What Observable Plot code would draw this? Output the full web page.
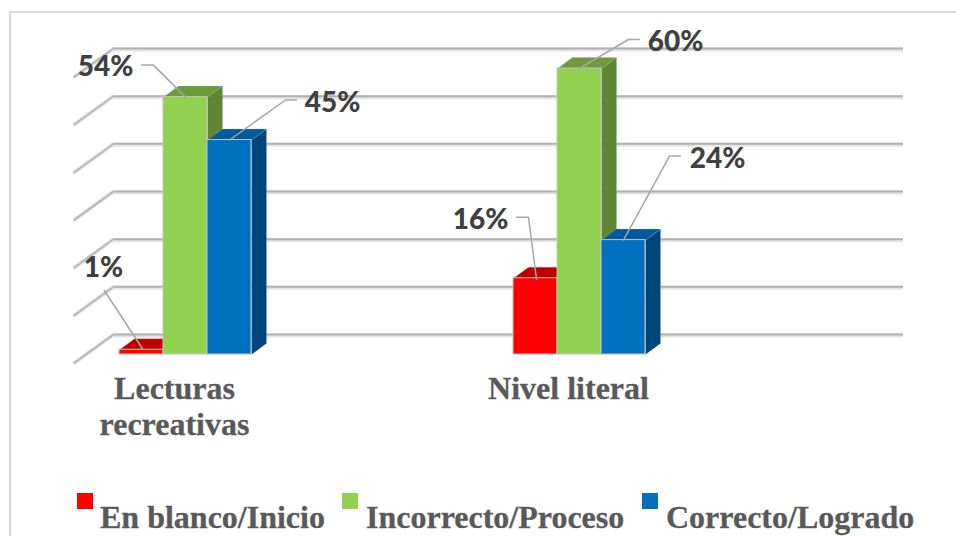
<!DOCTYPE html>
<html lang="es">
<head>
<meta charset="utf-8">
<script src="https://cdn.jsdelivr.net/npm/d3@7"></script>
<script src="https://cdn.jsdelivr.net/npm/@observablehq/plot@0.6"></script>
<style>
  html, body { margin: 0; padding: 0; background: #fff; overflow: hidden; }
  #page { position: relative; width: 956px; height: 536px; overflow: hidden; }
  #frame { position: absolute; left: 9px; top: 11px; width: 947px; height: 525px; box-sizing: border-box;
           border-top: 2px solid #d9d9d9; border-left: 2px solid #d9d9d9; }
  #chart { position: absolute; left: 0; top: 0; }
  #chart svg { display: block; background: transparent; }
  .key { position: absolute; top: 493px; width: 16px; height: 16px; }
  .lab { position: absolute; top: 499px; font: bold 32px/36px "Liberation Serif", serif; color: #595959; white-space: nowrap; -webkit-text-stroke: 0.3px #595959; }
</style>
</head>
<body>
<div id="page">
  <div id="frame"></div>
  <div id="chart"></div>
</div>
<script>
// ---- data ----
const categories = ["Lecturas\nrecreativas", "Nivel literal"];
const seriesNames = ["En blanco/Inicio", "Incorrecto/Proceso", "Correcto/Logrado"];
const enBlanco = [1, 16];
const incorrecto = [54, 60];
const correcto = [45, 24];
const gridValues = [0, 10, 20, 30, 40, 50, 60];

// ---- styles ----
const frontColors = ["#ff0000", "#92d050", "#0070c0"];
const topColors   = ["#c00000", "#6f9a3c", "#005a9c"];
const sideColors  = ["#a80000", "#5f8633", "#00467c"];

// ---- layout ----
const xRange = [185, 579], yRange = [354, 68];
const pxX = xRange[1] - xRange[0];            // pixels per category
const pxY = (yRange[0] - yRange[1]) / 60;     // pixels per percentage point
const barW = 44 / pxX;
const barDX = 15 / pxX, barDY = 11 / pxY;     // depth of a bar
const wallDX = 39;                            // depth of the floor
const gridLeft = -111 / pxX, gridRight = 680 / pxX;
// leader lines and labels, as pixel offsets from the top centre of each bar
const leaders = {
  "0-0": {path: [[1, -1], [-37, -59]], label: [-38, -82]},
  "1-0": {path: [[0, 0], [-32, -32], [-44, -32]], label: [-80, -30]},
  "2-0": {path: [[0, 0], [56, -40], [67, -40]], label: [103, -37]},
  "0-1": {path: [[1, 1], [-7, -61], [-19, -61]], label: [-55, -58]},
  "1-1": {path: [[0, 0], [49, -29], [60, -29]], label: [96, -26]},
  "2-1": {path: [[0, 0], [46, -84], [57, -84]], label: [94, -81]}
};

// ---- derived tables ----
const values = [enBlanco, incorrecto, correcto];
const bars = values.flatMap((vals, s) => vals.map((v, c) => {
  const x1 = c + (s - 1.5) * barW;
  return {s, c, v, x1, x2: x1 + barW, xm: x1 + barW / 2, key: `${s}-${c}`, series: seriesNames[s]};
}));
const sidePoly = b => [[b.x2, 0], [b.x2 + barDX, barDY], [b.x2 + barDX, b.v + barDY], [b.x2, b.v]]
  .map(([x, y]) => ({x, y, id: b.key}));
const topPoly = b => [[b.x1, b.v], [b.x1 + barDX, b.v + barDY], [b.x2 + barDX, b.v + barDY], [b.x2, b.v]]
  .map(([x, y]) => ({x, y, id: b.key}));
const leaderPts = bars.flatMap(b => leaders[b.key].path.map(([dx, dy]) =>
  ({x: b.xm + dx / pxX, y: b.v - dy / pxY, id: b.key})));
const labelPts = bars.map(b => ({
  x: b.xm + leaders[b.key].label[0] / pxX,
  y: b.v - leaders[b.key].label[1] / pxY,
  text: b.v + "%"
}));
const gridRows = gridValues.map(v => ({v}));

const faceMarks = order => order.flatMap(s => {
  const own = bars.filter(b => b.s === s);
  return [
    Plot.line(own.flatMap(sidePoly), {x: "x", y: "y", z: "id", fill: sideColors[s], stroke: "#9fb0bd", strokeWidth: 0.5, strokeOpacity: 0.5}),
    Plot.line(own.flatMap(topPoly), {x: "x", y: "y", z: "id", fill: topColors[s], stroke: "#9fb0bd", strokeWidth: 0.5, strokeOpacity: 0.5}),
    Plot.rect(own, {x1: "x1", x2: "x2", y1: 0, y2: "v", fill: "series", stroke: "#c4c4c4", strokeWidth: 1, inset: 0})
  ];
});

const chart = Plot.plot({
  width: 956,
  height: 536,
  margin: 0,
  style: {background: "transparent", overflow: "visible"},
  x: {domain: [0, 1], range: xRange, axis: null},
  y: {domain: [0, 60], range: yRange, axis: null},
  color: {domain: seriesNames, range: frontColors},
  marks: [
    // back wall gridlines with their soft shadow
    Plot.ruleY(gridRows, {y: "v", x1: gridLeft, x2: gridRight, dx: wallDX - 1, dy: -20 + 1, stroke: "#e4e4e4", strokeWidth: 4}),
    Plot.ruleY(gridRows, {y: "v", x1: gridLeft, x2: gridRight, dx: wallDX - 1, dy: -20, stroke: "#b0b0b0", strokeWidth: 2}),
    // floor-side diagonals
    Plot.link(gridRows, {x1: gridLeft - 1 / pxX, x2: gridLeft + wallDX / pxX, y1: d => d.v - 9 / pxY, y2: d => d.v + 20 / pxY, stroke: "#e2e2e2", strokeWidth: 4}),
    Plot.link(gridRows, {x1: gridLeft - 1 / pxX, x2: gridLeft + wallDX / pxX, y1: d => d.v - 9 / pxY, y2: d => d.v + 20 / pxY, stroke: "#b5b5b5", strokeWidth: 1.6}),
    // bars
    ...faceMarks([0, 1, 2]),
    // leaders and labels
    Plot.line(leaderPts, {x: "x", y: "y", z: "id", stroke: "#a6a6a6", strokeWidth: 1.5}),
    Plot.text(labelPts, {x: "x", y: "y", text: "text", fontFamily: "Lato, sans-serif", fontWeight: 900, fontSize: 28, fill: "#404040"}),
    // category labels
    Plot.text(categories, {x: (d, i) => i - 11 / pxX, y: 0, dy: 19, text: d => d, lineHeight: 1.125, lineAnchor: "top", fontFamily: "'Liberation Serif', serif", fontWeight: 700, fontSize: 32, fill: "#595959", stroke: "#595959", strokeWidth: 0.3})
  ]
});
document.getElementById("chart").append(chart);

// legend, below the bars
const page = document.getElementById("page");
[77, 342, 642].forEach((left, i) => {
  const k = document.createElement("div");
  k.className = "key";
  k.style.left = left + "px";
  k.style.background = frontColors[i];
  page.append(k);
  const t = document.createElement("div");
  t.className = "lab";
  t.textContent = seriesNames[i];
  t.style.left = [100, 366, 666][i] + "px";
  page.append(t);
});
</script>
</body>
</html>
